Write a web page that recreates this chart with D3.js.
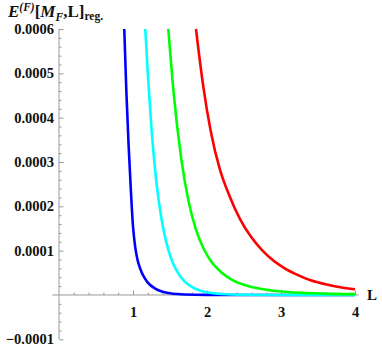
<!DOCTYPE html>
<html>
<head>
<meta charset="utf-8">
<script src="https://cdn.jsdelivr.net/npm/d3@7"></script>
<style>
  body { margin: 0; background: #fff; }
  svg { display: block; }
  .tick-label { font-family: "Liberation Serif", "Times New Roman", serif; font-weight: bold; font-size: 14.5px; fill: #111; }
</style>
</head>
<body>
<div id="chart"></div>
<script>
// curves: L values and energy values (in units of 1e-6) for each colour
const blueL  = [0.882, 0.91, 0.94, 0.97, 1.0, 1.03, 1.06, 1.10, 1.15, 1.2, 1.3, 1.4, 1.5, 1.7, 2.0, 2.5, 4.0];
const blueE  = [600, 460, 340, 240, 155, 108, 80, 58, 40, 28, 14.5, 7.5, 3.9, 1.1, 0.2, 0.02, 0];
const cyanL  = [1.166, 1.2, 1.25, 1.3, 1.35, 1.4, 1.45, 1.5, 1.55, 1.6, 1.7, 1.8, 1.9, 2.0, 2.2, 2.5, 3.0, 4.0];
const cyanE  = [600, 500, 375, 280, 210, 158, 119, 90, 68, 52, 30, 17.5, 10.3, 6.2, 2.3, 0.6, 0.1, 0];
const greenL = [1.477, 1.55, 1.65, 1.75, 1.85, 1.95, 2.05, 2.2, 2.35, 2.5, 2.7, 2.9, 3.2, 3.6, 4.0];
const greenE = [600, 455, 310, 212, 148, 106, 77, 50, 33, 23, 14.5, 9.5, 5.5, 3, 1.8];
const redL   = [1.851, 1.95, 2.05, 2.176, 2.3, 2.45, 2.6, 2.75, 2.9, 3.05, 3.2, 3.4, 3.6, 3.8, 4.0];
const redE   = [600, 470, 370, 282, 225, 170, 130, 100, 77, 60, 47, 33, 24, 17.5, 12.8];
const seriesColors = ["#0000ff", "#00ffff", "#00ff00", "#ff0000"];
const unit = 1e-6;

const xMajor = [1, 2, 3, 4];
const yMajor = [-0.0001, 0.0001, 0.0002, 0.0003, 0.0004, 0.0005, 0.0006];

const W = 382, H = 349;
const svg = d3.select("#chart").append("svg").attr("width", W).attr("height", H);

const xScale = d3.scaleLinear().domain([0, 4]).range([59, 355]);
const yScale = d3.scaleLinear().domain([-0.0001, 0.0006]).range([339.3, 29]);

// axes lines
svg.append("line")
  .attr("x1", xScale(-0.09)).attr("x2", xScale(4.05))
  .attr("y1", yScale(0)).attr("y2", yScale(0))
  .attr("stroke", "#999").attr("stroke-width", 1);
svg.append("line")
  .attr("x1", xScale(0)).attr("x2", xScale(0))
  .attr("y1", yScale(0.0006)).attr("y2", yScale(-0.0001))
  .attr("stroke", "#999").attr("stroke-width", 1);

// x minor ticks
const xMinor = d3.range(0.2, 4.01, 0.2).filter(v => Math.abs(v - Math.round(v)) > 1e-6);
svg.append("g")
  .attr("transform", `translate(0,${yScale(0)})`)
  .call(d3.axisBottom(xScale).tickValues(xMinor).tickSize(-2.5).tickFormat(""))
  .call(g => g.select(".domain").remove())
  .call(g => g.selectAll("line").attr("stroke", "#999"));

// x major ticks with labels
svg.append("g")
  .attr("transform", `translate(0,${yScale(0)})`)
  .call(d3.axisBottom(xScale).tickValues(xMajor).tickSize(-4.5).tickPadding(12).tickFormat(d3.format("d")))
  .call(g => g.select(".domain").remove())
  .call(g => g.selectAll("line").attr("stroke", "#999"))
  .call(g => g.selectAll("text").attr("class", "tick-label").attr("font-size", null).attr("font-family", null).attr("fill", null));

// y minor ticks
const yMinor = d3.range(-0.0001, 0.00060001, 0.00002).filter(v => Math.abs(v / 0.0001 - Math.round(v / 0.0001)) > 1e-6);
svg.append("g")
  .attr("transform", `translate(${xScale(0)},0)`)
  .call(d3.axisLeft(yScale).tickValues(yMinor).tickSize(-2.5).tickFormat(""))
  .call(g => g.select(".domain").remove())
  .call(g => g.selectAll("line").attr("stroke", "#999"));

// y major ticks with labels
svg.append("g")
  .attr("transform", `translate(${xScale(0)},0)`)
  .call(d3.axisLeft(yScale).tickValues(yMajor).tickSize(-4.5).tickPadding(5)
    .tickFormat(d => (d < 0 ? "\u22120" : "0") + d3.format(".4f")(Math.abs(d)).slice(1)))
  .call(g => g.select(".domain").remove())
  .call(g => g.selectAll("line").attr("stroke", "#999"))
  .call(g => g.selectAll("text").attr("class", "tick-label").attr("font-size", null).attr("font-family", null).attr("fill", null));

// curves
svg.append("clipPath").attr("id", "plot-clip")
  .append("rect").attr("x", xScale(0)).attr("y", yScale(0.0006) - 1)
  .attr("width", xScale(4) - xScale(0) + 3).attr("height", yScale(-0.0001) - yScale(0.0006) + 1);

const line = d3.line()
  .x(d => xScale(d[0]))
  .y(d => yScale(d[1] * unit))
  .curve(d3.curveMonotoneX);

const allSeries = [[blueL, blueE], [cyanL, cyanE], [greenL, greenE], [redL, redE]];
svg.append("g").attr("clip-path", "url(#plot-clip)")
  .selectAll("path")
  .data(allSeries)
  .join("path")
  .attr("d", d => line(d[0].map((l, i) => [l, d[1][i]])))
  .attr("fill", "none")
  .attr("stroke", (d, i) => seriesColors[i])
  .attr("stroke-width", 2.6)
  .attr("stroke-linejoin", "round");

// axis label L
svg.append("text")
  .attr("class", "tick-label")
  .attr("x", 367).attr("y", 299.5)
  .style("font-size", "15px")
  .text("L");

// title E^(F)[M_F,L]_reg.
const title = svg.append("text")
  .attr("x", 8).attr("y", 17)
  .style("font-family", "'Liberation Serif', 'Times New Roman', serif")
  .style("font-weight", "bold")
  .style("font-size", "17px")
  .attr("fill", "#111");
title.append("tspan").style("font-style", "italic").text("E");
title.append("tspan").attr("dy", -6).style("font-style", "italic").style("font-size", "11.5px").text("(F)");
title.append("tspan").attr("dy", 6).text("[");
title.append("tspan").style("font-style", "italic").text("M");
title.append("tspan").attr("dy", 4).style("font-style", "italic").style("font-size", "11.5px").text("F");
title.append("tspan").attr("dy", -4).text(",L]");
title.append("tspan").attr("dy", 3).style("font-size", "11.5px").text("reg.");
</script>
</body>
</html>
